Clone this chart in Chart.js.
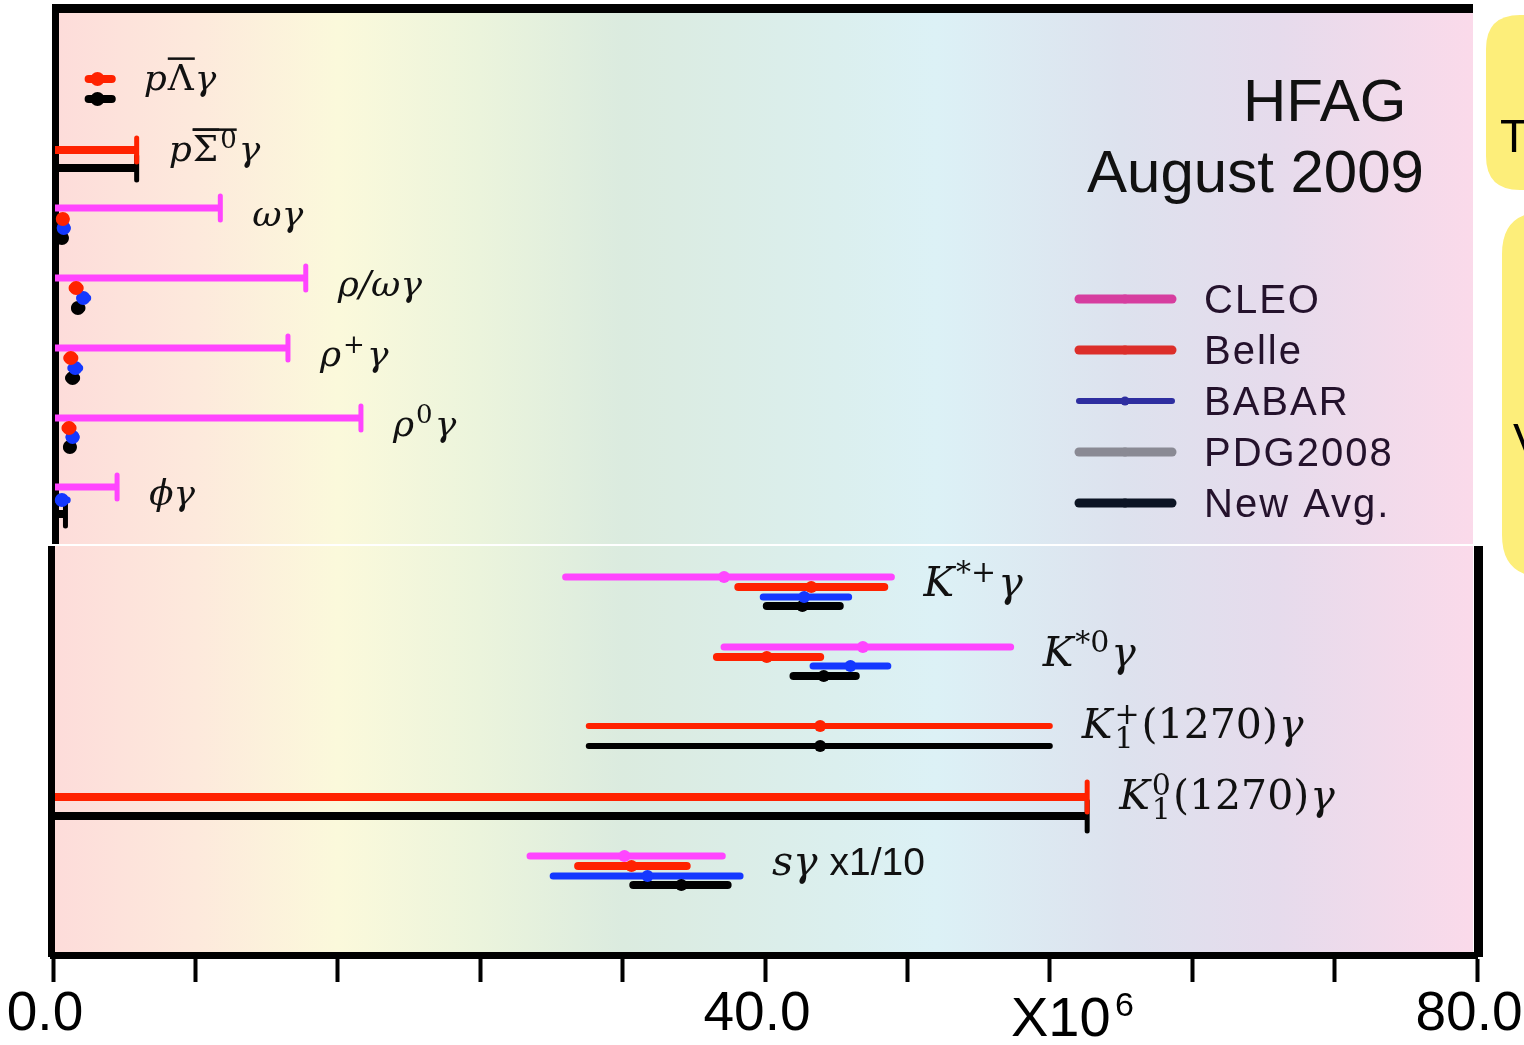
<!DOCTYPE html>
<html>
<head>
<meta charset="utf-8">
<title>HFAG radiative B decays</title>
<script src="https://cdn.jsdelivr.net/npm/chart.js@4.4.1/dist/chart.umd.min.js"></script>
<style>
  body { margin: 0; background: #fff; }
  #wrap { position: relative; width: 1524px; height: 1045px; }
</style>
</head>
<body>
<div id="wrap"><canvas id="chart" width="1524" height="1045"></canvas></div>
<script>
// row labels, each one a list of [style, text] pieces
const rowLabels = [
    [['i', 'p'], ['o', 'Λ'], ['i', 'γ']],
    [['i', 'p'], ['o', 'Σ'], ['supo', '0'], ['i', 'γ']],
    [['i', 'ωγ']],
    [['i', 'ρ/ωγ']],
    [['i', 'ρ'], ['sup', '+'], ['i', 'γ']],
    [['i', 'ρ'], ['sup', '0'], ['i', 'γ']],
    [['i', 'ϕγ']],
    [['i', 'K'], ['sup', '*+'], ['i', 'γ']],
    [['i', 'K'], ['sup', '*0'], ['i', 'γ']],
    [['i', 'K'], ['supsub', '+', '1'], ['r', '(1270)'], ['i', 'γ']],
    [['i', 'K'], ['supsub', '0', '1'], ['r', '(1270)'], ['i', 'γ']],
    [['i', 'sγ'], ['s', ' x1/10']]
];

// [row, y slot, value, low, high]  value null = upper limit at high
const cleo = [
    [2, 19.5, null, 0, 9.4],
    [3, 26.5, null, 0, 14.2],
    [4, 33.5, null, 0, 13.2],
    [5, 40.5, null, 0, 17.3],
    [6, 47.4, null, 0, 3.6],
    [7, 56.4, 37.7, 28.8, 47.1],
    [8, 63.4, 45.5, 37.7, 53.8],
    [11, 84.3, 32.1, 26.8, 37.6]
];
const belle = [
    [0, 6.6, 2.5, 2.0, 3.3],
    [1, 13.7, null, 0, 4.7],
    [2, 20.6, 0.55, 0.4, 0.7],
    [3, 27.5, 1.3, 1.1, 1.5],
    [4, 34.5, 1.0, 0.8, 1.2],
    [5, 41.5, 0.9, 0.7, 1.1],
    [7, 57.4, 42.6, 38.5, 46.7],
    [8, 64.4, 40.1, 37.3, 43.1],
    [9, 71.3, 43.1, 30.1, 56.0],
    [10, 78.4, null, 0, 58.1],
    [11, 85.3, 32.5, 29.5, 35.6]
];
const babar = [
    [2, 21.5, 0.6, 0.45, 0.8],
    [3, 28.5, 1.7, 1.5, 1.95],
    [4, 35.5, 1.25, 1.0, 1.5],
    [5, 42.4, 1.1, 0.9, 1.3],
    [6, 48.7, 0.5, 0.3, 0.8],
    [7, 58.4, 42.2, 39.9, 44.7],
    [8, 65.3, 44.8, 42.7, 46.9],
    [11, 86.3, 33.4, 28.1, 38.6]
];
const pdg2008 = [];
const newAvg = [
    [0, 8.6, 2.5, 2.0, 3.3],
    [1, 15.5, null, 0, 4.7],
    [2, 22.5, 0.5, 0.35, 0.65],
    [3, 29.5, 1.4, 1.25, 1.6],
    [4, 36.5, 1.1, 0.9, 1.3],
    [5, 43.4, 0.95, 0.8, 1.1],
    [6, 50.1, null, 0, 0.7],
    [7, 59.3, 42.1, 40.1, 44.2],
    [8, 66.3, 43.3, 41.6, 45.1],
    [9, 73.3, 43.1, 30.1, 56.0],
    [10, 80.3, null, 0, 58.1],
    [11, 87.2, 35.3, 32.6, 37.9]
];

const xTicks = [0, 8, 16, 24, 32, 40, 48, 56, 64, 72, 80];
const xLabelled = [0, 40, 80];
const thinRows = [9];

function toPoints(rows) {
    return rows.map(r => ({
        row: r[0], y: r[1],
        x: r[2] === null ? r[4] : r[2],
        lo: r[3], hi: r[4], ul: r[2] === null
    }));
}

function makeSet(label, rows, color, legendColor, width, legendWidth) {
    return {
        label: label,
        data: toPoints(rows),
        backgroundColor: color,
        borderColor: color,
        legendColor: legendColor,
        barWidth: width,
        legendWidth: legendWidth,
        pointRadius: c => (c.raw && c.raw.ul) ? 0 : (c.raw && c.raw.row < 7 ? 7 : 6),
        pointBorderWidth: 0,
        showLine: false
    };
}

const SERIF = '"DejaVu Serif", "Liberation Serif", serif';
const SANS = '"Liberation Sans", Arial, sans-serif';

// gradient behind both panels
function bgGradient(ctx, x0, x1) {
    const g = ctx.createLinearGradient(x0, 0, x1, 0);
    g.addColorStop(0.0, '#fddcda');
    g.addColorStop(0.1, '#fde9dc');
    g.addColorStop(0.2, '#fbf9db');
    g.addColorStop(0.3, '#ebf4dc');
    g.addColorStop(0.4, '#dbebdf');
    g.addColorStop(0.55, '#dbefee');
    g.addColorStop(0.62, '#dcf1f6');
    g.addColorStop(0.75, '#dde2ee');
    g.addColorStop(0.86, '#e6dbec');
    g.addColorStop(1.0, '#fbdaea');
    return g;
}

function roundRect(ctx, x, y, w, h, r) {
    ctx.beginPath();
    ctx.moveTo(x + r, y);
    ctx.lineTo(x + w - r, y);
    ctx.quadraticCurveTo(x + w, y, x + w, y + r);
    ctx.lineTo(x + w, y + h - r);
    ctx.quadraticCurveTo(x + w, y + h, x + w - r, y + h);
    ctx.lineTo(x + r, y + h);
    ctx.quadraticCurveTo(x, y + h, x, y + h - r);
    ctx.lineTo(x, y + r);
    ctx.quadraticCurveTo(x, y, x + r, y);
    ctx.closePath();
}

const panels = {
    id: 'panels',
    beforeDraw(chart) {
        const ctx = chart.ctx;
        const a = chart.chartArea;
        const split = 544;
        ctx.save();
        ctx.fillStyle = '#fff';
        ctx.fillRect(0, 0, chart.width, chart.height);
        // top panel
        ctx.fillStyle = bgGradient(ctx, a.left, a.right);
        ctx.fillRect(a.left + 6, a.top, a.right - 4 - a.left - 6, split - a.top);
        ctx.fillStyle = '#000';
        ctx.fillRect(a.left - 1, a.top - 9, a.right - 4 - a.left + 1, 9);
        ctx.fillRect(a.left - 1, a.top - 9, 7, split - a.top + 9);
        // bottom panel
        ctx.fillStyle = bgGradient(ctx, a.left, a.right);
        ctx.fillRect(a.left + 2, split + 2, a.right - 4 - a.left - 2, a.bottom - split - 2);
        ctx.fillStyle = '#000';
        ctx.fillRect(a.left - 5, split + 2, 7, a.bottom - split);
        ctx.fillRect(a.right - 3, split + 2, 9, a.bottom - split);
        ctx.restore();
    }
};

const errorBars = {
    id: 'errorBars',
    beforeDatasetsDraw(chart) {
        const ctx = chart.ctx;
        const xs = chart.scales.x, ys = chart.scales.y;
        ctx.save();
        for (let i = chart.data.datasets.length - 1; i >= 0; i--) {
            const ds = chart.data.datasets[i];
            ctx.strokeStyle = ds.borderColor;
            ds.data.forEach(p => {
                const w = thinRows.includes(p.row) ? 6 : ds.barWidth;
                const py = ys.getPixelForValue(p.y);
                const x1 = xs.getPixelForValue(p.lo), x2 = xs.getPixelForValue(p.hi);
                ctx.lineWidth = w;
                ctx.beginPath();
                if (p.ul) {
                    ctx.lineCap = 'butt';
                    ctx.moveTo(x1 + 2, py);
                    ctx.lineTo(x2, py);
                    ctx.stroke();
                    const capH = p.row >= 7 ? 15 : 12;
                    ctx.lineWidth = 5;
                    ctx.lineCap = 'round';
                    ctx.beginPath();
                    ctx.moveTo(x2, py - capH);
                    ctx.lineTo(x2, py + capH);
                    ctx.stroke();
                } else {
                    ctx.lineCap = 'round';
                    ctx.moveTo(x1, py);
                    ctx.lineTo(x2, py);
                    ctx.stroke();
                }
            });
        }
        ctx.restore();
    }
};

// draw one math-like label from its pieces
function drawRich(ctx, parts, x, y, size) {
    let cx = x;
    let overStart = null;
    const small = Math.round(size * 0.72);
    ctx.textBaseline = 'alphabetic';
    parts.forEach(([kind, text, extra]) => {
        if (kind === 'i') {
            ctx.font = 'italic ' + size + 'px ' + SERIF;
            ctx.fillText(text, cx, y);
            cx += ctx.measureText(text).width + 1;
        } else if (kind === 'r' || kind === 'o') {
            ctx.font = size + 'px ' + SERIF;
            if (kind === 'o') overStart = cx;
            ctx.fillText(text, cx, y);
            cx += ctx.measureText(text).width + 1;
            if (kind === 'o') drawOver(ctx, overStart, cx, y, size);
        } else if (kind === 'sup' || kind === 'supo') {
            ctx.font = small + 'px ' + SERIF;
            const w = ctx.measureText(text).width;
            ctx.fillText(text, cx + 1, y - size * 0.36);
            cx += w + 3;
            if (kind === 'supo') drawOver(ctx, overStart, cx - 2, y, size);
        } else if (kind === 'supsub') {
            ctx.font = small + 'px ' + SERIF;
            const w = Math.max(ctx.measureText(text).width, ctx.measureText(extra).width);
            ctx.fillText(text, cx + 1, y - size * 0.36);
            ctx.fillText(extra, cx + 1, y + size * 0.24);
            cx += w + 3;
        } else if (kind === 's') {
            ctx.font = Math.round(size * 0.95) + 'px ' + SANS;
            ctx.fillText(text, cx, y);
            cx += ctx.measureText(text).width;
        }
    });
}

function drawOver(ctx, x1, x2, y, size) {
    ctx.fillRect(x1, y - size * 0.9, x2 - x1, 2.5);
}

const annotations = {
    id: 'annotations',
    afterDraw(chart) {
        const ctx = chart.ctx;
        const xs = chart.scales.x, ys = chart.scales.y;
        ctx.save();
        ctx.fillStyle = '#111';

        // row labels sit to the right of the widest entry of each row
        rowLabels.forEach((parts, r) => {
            let maxHi = -1, minY = 1e9, count = 0;
            chart.data.datasets.forEach(ds => ds.data.forEach(p => {
                if (p.row === r) {
                    maxHi = Math.max(maxHi, p.hi);
                    minY = Math.min(minY, p.y);
                    count++;
                }
            }));
            const lx = xs.getPixelForValue(maxHi) + 32;
            const ly = ys.getPixelForValue(minY) + (count > 2 ? 7 : 0);
            const size = r < 7 ? 36 : 41;
            drawRich(ctx, parts, lx, ly + size * 0.3, size);
        });

        // title
        ctx.font = '60px ' + SANS;
        ctx.fillText('HFAG', 1243, 121);
        ctx.fillText('August 2009', 1087, 192);

        // legend
        let ly = 299;
        chart.data.datasets.forEach(ds => {
            ctx.strokeStyle = ds.legendColor;
            ctx.lineWidth = ds.legendWidth;
            ctx.lineCap = 'round';
            ctx.beginPath();
            ctx.moveTo(1079, ly);
            ctx.lineTo(1172, ly);
            ctx.stroke();
            ctx.fillStyle = ds.legendColor;
            ctx.beginPath();
            ctx.arc(1125, ly, 4.5, 0, Math.PI * 2);
            ctx.fill();
            ctx.fillStyle = '#24122c';
            ctx.font = '40px ' + SANS;
            ctx.letterSpacing = '2px';
            ctx.textBaseline = 'middle';
            ctx.fillText(ds.label, 1204, ly + 3);
            ctx.letterSpacing = '0px';
            ly += 51;
        });

        // axis unit
        ctx.fillStyle = '#000';
        ctx.textBaseline = 'alphabetic';
        ctx.font = '56px ' + SANS;
        ctx.fillText('X10', 1011, 1036);
        ctx.font = '34px ' + SANS;
        ctx.fillText('6', 1115, 1016);

        // cropped yellow boxes on the right edge
        ctx.fillStyle = '#fdee7a';
        roundRect(ctx, 1486, 15, 90, 175, 34);
        ctx.fill();
        roundRect(ctx, 1502, 212, 80, 365, 42);
        ctx.fill();
        ctx.fillStyle = '#000';
        ctx.font = '46px ' + SANS;
        ctx.fillText('T', 1500, 152);
        ctx.fillText('V', 1513, 456);
        ctx.restore();
    }
};

const ctx = document.getElementById('chart').getContext('2d');
new Chart(ctx, {
    type: 'scatter',
    data: {
        datasets: [
            makeSet('CLEO', cleo, '#ff45ff', '#d63d9f', 7, 9),
            makeSet('Belle', belle, '#ff2200', '#dc2e2a', 8, 9),
            makeSet('BABAR', babar, '#1438ff', '#2e2ea0', 7, 6),
            makeSet('PDG2008', pdg2008, '#888890', '#8a8a94', 8, 9),
            makeSet('New Avg.', newAvg, '#000000', '#0c1424', 8, 9)
        ]
    },
    options: {
        responsive: false,
        animation: false,
        devicePixelRatio: 1,
        layout: { padding: { left: 53, right: 47, top: 13, bottom: 0 } },
        plugins: {
            legend: { display: false },
            tooltip: { enabled: false }
        },
        scales: {
            x: {
                type: 'linear',
                min: xTicks[0],
                max: xTicks[xTicks.length - 1],
                afterBuildTicks: s => { s.ticks = xTicks.map(v => ({ value: v })); },
                afterFit: s => { s.height = 90; s.paddingLeft = 0; s.paddingRight = 0; },
                ticks: {
                    autoSkip: false,
                    maxRotation: 0,
                    padding: 0,
                    labelOffset: -8,
                    color: '#000',
                    font: { family: SANS, size: 55 },
                    callback: v => xLabelled.includes(v) ? v.toFixed(1) : ''
                },
                grid: {
                    drawOnChartArea: false,
                    drawTicks: true,
                    tickLength: 27,
                    tickWidth: 4,
                    tickColor: '#000'
                },
                border: { display: true, color: '#000', width: 7 }
            },
            y: {
                type: 'linear',
                display: false,
                reverse: true,
                min: 0,
                max: 94.2
            }
        }
    },
    plugins: [panels, errorBars, annotations]
});
</script>
</body>
</html>
